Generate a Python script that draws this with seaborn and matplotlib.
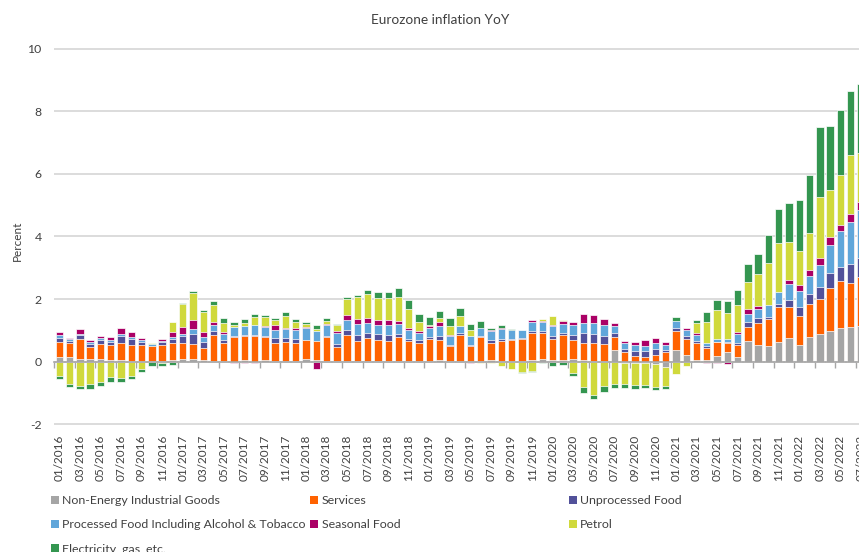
import numpy as np
import matplotlib
matplotlib.use("Agg")
import matplotlib.pyplot as plt
import seaborn as sns
from matplotlib.lines import Line2D

# Monthly categories, 01/2016 .. 07/2022
months = [f"{m:02d}/{y}" for y in range(2016, 2023) for m in range(1, 13)][:79]

# Contributions to headline HICP inflation, percentage points
neig = [0.16, 0.16, 0.10, 0.10, 0.10, 0.06, 0.06, 0.03, 0.03, 0.03, 0.02, 0.06,
        0.10, 0.10, 0.04, 0.03, 0.03, 0.00, 0.06, 0.00, 0.06, 0.03, 0.03, 0.03,
        0.10, 0.07, 0.02, 0.02, 0.02, 0.02, 0.02, 0.02, 0.02, 0.02, 0.02, 0.02,
        0.02, 0.06, 0.02, 0.03, 0.01, 0.02, 0.06, 0.02, 0.02, 0.02, 0.07, 0.10,
        0.05, 0.07, 0.10, 0.06, 0.03, 0.03, 0.39, -0.05, -0.05, -0.05, -0.08, -0.17,
        0.36, 0.22, 0.06, 0.06, 0.17, 0.30, 0.16, 0.67, 0.52, 0.49, 0.62, 0.75,
        0.52, 0.79, 0.89, 0.98, 1.08, 1.11, 1.15]
services = [0.47, 0.44, 0.63, 0.36, 0.47, 0.47, 0.53, 0.50, 0.50, 0.46, 0.53, 0.53,
            0.50, 0.47, 0.41, 0.82, 0.56, 0.79, 0.77, 0.82, 0.72, 0.56, 0.61, 0.56,
            0.61, 0.60, 0.76, 0.44, 0.83, 0.64, 0.73, 0.68, 0.63, 0.77, 0.64, 0.57,
            0.72, 0.64, 0.47, 0.83, 0.49, 0.76, 0.53, 0.63, 0.68, 0.71, 0.85, 0.81,
            0.67, 0.77, 0.61, 0.53, 0.56, 0.53, 0.39, 0.30, 0.19, 0.15, 0.22, 0.30,
            0.61, 0.50, 0.53, 0.39, 0.45, 0.30, 0.36, 0.44, 0.73, 0.89, 1.12, 1.00,
            0.95, 1.04, 1.11, 1.38, 1.49, 1.42, 1.57]
unprocessed = [0.13, 0.06, 0.11, 0.11, 0.11, 0.11, 0.23, 0.19, 0.11, 0.00, 0.09, 0.14,
               0.21, 0.33, 0.18, 0.14, 0.11, 0.04, 0.03, 0.03, 0.04, 0.17, 0.13, 0.14,
               0.00, 0.00, 0.04, 0.11, 0.17, 0.20, 0.18, 0.18, 0.21, 0.10, 0.06, 0.11,
               0.05, 0.13, 0.04, 0.05, 0.05, 0.03, 0.11, 0.09, 0.03, 0.04, 0.06, 0.06,
               0.11, 0.09, 0.16, 0.32, 0.30, 0.27, 0.15, 0.12, 0.14, 0.18, 0.19, 0.06,
               0.10, 0.11, 0.06, 0.05, 0.02, 0.02, 0.08, 0.16, 0.14, 0.05, 0.10, 0.21,
               0.28, 0.34, 0.40, 0.47, 0.44, 0.59, 0.58]
processed = [0.08, 0.06, 0.04, 0.05, 0.07, 0.06, 0.06, 0.06, 0.04, 0.07, 0.03, 0.07,
             0.09, 0.13, 0.15, 0.17, 0.19, 0.27, 0.27, 0.31, 0.30, 0.26, 0.27, 0.29,
             0.36, 0.30, 0.34, 0.35, 0.32, 0.33, 0.31, 0.28, 0.30, 0.30, 0.30, 0.23,
             0.28, 0.30, 0.30, 0.24, 0.27, 0.26, 0.29, 0.29, 0.27, 0.24, 0.30, 0.30,
             0.30, 0.29, 0.30, 0.34, 0.36, 0.33, 0.22, 0.18, 0.19, 0.18, 0.18, 0.17,
             0.22, 0.19, 0.20, 0.10, 0.10, 0.11, 0.28, 0.26, 0.29, 0.38, 0.38, 0.51,
             0.52, 0.56, 0.68, 0.89, 1.15, 1.35, 1.54]
seasonal = [0.12, 0.04, 0.16, 0.07, 0.07, 0.09, 0.19, 0.16, 0.07, 0.00, 0.05, 0.15,
            0.20, 0.30, 0.17, 0.10, 0.06, -0.05, -0.05, -0.04, 0.03, 0.14, 0.05, 0.06,
            0.03, -0.23, 0.04, 0.07, 0.14, 0.17, 0.15, 0.16, 0.16, 0.10, 0.06, 0.05,
            0.06, 0.13, 0.04, 0.00, -0.05, 0.00, 0.03, 0.06, 0.00, 0.00, 0.04, 0.04,
            0.04, 0.07, 0.09, 0.28, 0.23, 0.22, 0.10, 0.06, 0.10, 0.18, 0.16, 0.09,
            0.00, 0.06, 0.07, -0.05, -0.05, -0.08, 0.06, 0.14, 0.11, 0.00, 0.00, 0.14,
            0.17, 0.19, 0.23, 0.25, 0.20, 0.26, 0.26]
petrol = [-0.44, -0.70, -0.77, -0.71, -0.64, -0.50, -0.53, -0.44, -0.22, 0.05, -0.04, 0.33,
          0.73, 0.87, 0.65, 0.55, 0.30, 0.06, 0.12, 0.26, 0.28, 0.18, 0.36, 0.20,
          0.12, 0.09, 0.09, 0.17, 0.53, 0.71, 0.76, 0.71, 0.73, 0.79, 0.62, 0.30,
          0.04, 0.14, 0.28, 0.31, 0.18, -0.04, -0.04, -0.13, -0.22, -0.32, -0.28, 0.05,
          0.28, 0.05, -0.37, -0.82, -1.05, -0.79, -0.70, -0.65, -0.70, -0.68, -0.74, -0.62,
          -0.38, -0.13, 0.32, 0.68, 0.92, 0.84, 0.87, 0.88, 1.02, 1.34, 1.56, 1.22,
          1.09, 1.19, 1.94, 1.52, 1.60, 1.86, 1.57]
energy = [-0.12, -0.10, -0.10, -0.15, -0.15, -0.15, -0.12, -0.12, -0.10, -0.13, -0.09, -0.10,
          0.06, 0.06, 0.04, 0.14, 0.14, 0.10, 0.11, 0.11, 0.07, 0.07, 0.13, 0.10,
          0.04, 0.10, 0.10, 0.06, 0.07, 0.07, 0.15, 0.20, 0.19, 0.26, 0.26, 0.23,
          0.27, 0.21, 0.24, 0.26, 0.20, 0.22, 0.06, 0.07, 0.03, -0.04, -0.04, -0.04,
          -0.13, -0.10, -0.09, -0.17, -0.13, -0.17, -0.15, -0.13, -0.13, -0.10, -0.09, -0.07,
          0.13, 0.00, 0.09, 0.30, 0.32, 0.36, 0.49, 0.57, 0.62, 0.91, 1.09, 1.25,
          1.64, 1.86, 2.24, 2.03, 2.07, 2.06, 2.20]

series_names = ["Non-Energy Industrial Goods", "Services", "Unprocessed Food",
                "Processed Food Including Alcohol & Tobacco", "Seasonal Food",
                "Petrol", "Electricity, gas, etc."]
series_colors = ["#A5A5A5", "#FF6200", "#52519A", "#60A6DA", "#AB0066",
                 "#D0D93C", "#349650"]

TEXT = "#404040"
GRID = "#D9D9D9"
AXIS = "#A6A6A6"

sns.set_theme(style="white")
plt.rcParams["font.family"] = ["Lato", "DejaVu Sans"]

W, H = 859, 552
fig = plt.figure(figsize=(W / 100, H / 100), dpi=100)
left_px, top_px, bottom_px = 54.2, 48, 425
ax = fig.add_axes([left_px / W, 1 - bottom_px / H, 1 - left_px / W,
                   (bottom_px - top_px) / H])

# Stack positive parts upward and negative parts downward from zero.
vals = np.array([neig, services, unprocessed, processed, seasonal, petrol, energy])
pos = np.clip(vals, 0, None)
neg = np.clip(vals, None, 0)
pos_cum = pos.cumsum(axis=0)
neg_cum = neg.cumsum(axis=0)
x_all = np.array(months)

for k in reversed(range(len(series_names))):
    for part, cum in ((pos, pos_cum), (neg, neg_cum)):
        mask = part[k] != 0
        if not mask.any():
            continue
        sns.barplot(x=x_all[mask], y=cum[k][mask], order=months,
                    color=series_colors[k], saturation=1, width=0.72,
                    errorbar=None, edgecolor="white", linewidth=0.5, ax=ax)

x_right = 77.81
ax.set_xlim(-0.5, x_right)
ax.set_ylim(-2.02, 10.02)
ax.set_yticks([-2, 0, 2, 4, 6, 8, 10])
ax.set_yticklabels(["-2", "0", "2", "4", "6", "8", "10"])
ax.yaxis.grid(True, color=GRID, linewidth=1.3)
ax.set_axisbelow(True)
ax.tick_params(axis="y", length=0, pad=9, labelsize=8.8, labelcolor=TEXT)
ax.set_xlabel("")
ax.set_ylabel("")

# Category axis crossing at zero: tick marks between every second month
for side in ("top", "right", "left"):
    ax.spines[side].set_visible(False)
ax.spines["bottom"].set_position(("data", 0))
ax.spines["bottom"].set_color(AXIS)
ax.spines["bottom"].set_linewidth(1.2)
ax.set_xticks(np.arange(-0.5, 79, 2))
ax.tick_params(axis="x", bottom=True, length=4, width=1, color=AXIS,
               direction="out", labelbottom=False)

# Month labels along the bottom edge of the plot
label_pos = np.arange(0, 79, 2)
sec = ax.secondary_xaxis("bottom")
sec.set_xticks(label_pos, labels=months[::2])
sec.tick_params(axis="x", length=0, pad=7, labelsize=8.5, labelcolor=TEXT,
                labelrotation=90)
sec.spines["bottom"].set_visible(False)

# The last month label sits on the right edge and runs off the figure
for p in label_pos[label_pos > x_right]:
    ax.annotate(months[p], xy=(p, 0), xycoords=("data", "axes fraction"),
                xytext=(0, -7), textcoords="offset points", rotation=90,
                ha="center", va="top", fontsize=8.5, color=TEXT,
                annotation_clip=False)

fig.text(440 / W, 1 - 20 / H, "Eurozone inflation YoY", ha="center", va="center",
         fontsize=9.8, color=TEXT)
fig.text(17 / W, 1 - 241 / H, "Percent", ha="center", va="center",
         rotation=90, fontsize=8.5, color=TEXT)

# Legend laid out row by row in three fixed columns
def handle(i):
    return Line2D([], [], marker="s", linestyle="none", markersize=5.2,
                  markerfacecolor=series_colors[i], markeredgewidth=0)

columns = [([0, 3, 6], 51), ([1, 4], 310.5), ([2, 5], 569)]
for idx, xpx in columns:
    fig.legend([handle(i) for i in idx], [series_names[i] for i in idx],
               loc="upper left", bbox_to_anchor=(xpx / W, 1 - 495 / H),
               frameon=False, borderpad=0, borderaxespad=0,
               handlelength=0.6, handletextpad=0.3, labelspacing=1.08,
               fontsize=8.9, labelcolor=TEXT)

fig.savefig("out.png", dpi=100)
